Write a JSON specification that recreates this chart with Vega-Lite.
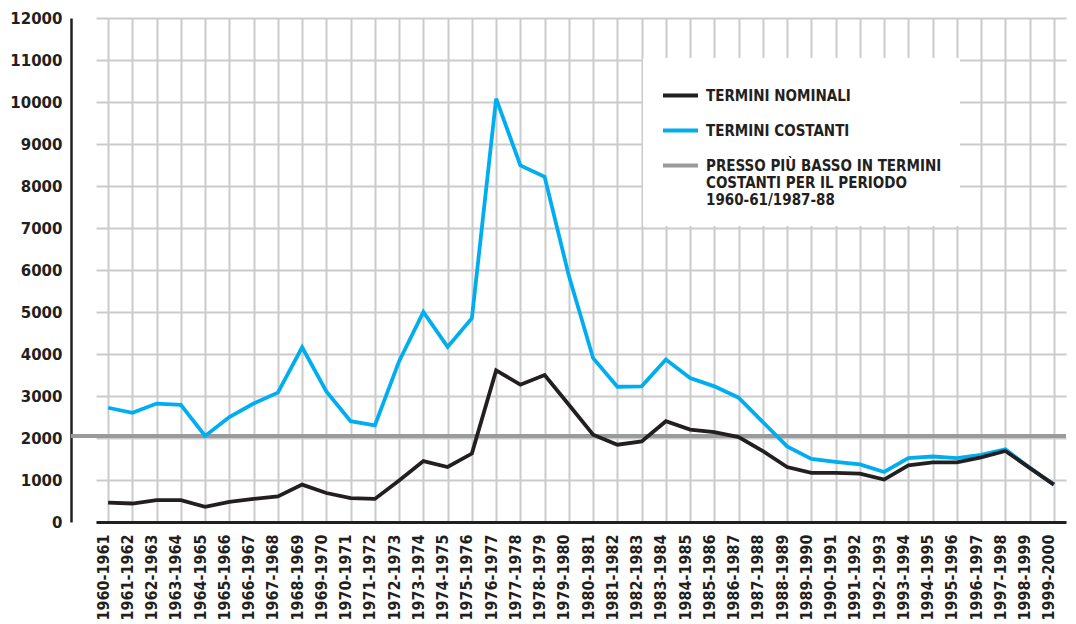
{
  "$schema": "https://vega.github.io/schema/vega-lite/v6.json",
  "width": 995,
  "height": 504,
  "autosize": {"type": "none"},
  "padding": {"left": 71, "top": 18, "right": 10, "bottom": 102},
  "background": "white",
  "datasets": {
    "series": [
      {"period": "1960-1961", "series": "Termini costanti", "value": 2720},
      {"period": "1961-1962", "series": "Termini costanti", "value": 2600},
      {"period": "1962-1963", "series": "Termini costanti", "value": 2820},
      {"period": "1963-1964", "series": "Termini costanti", "value": 2790},
      {"period": "1964-1965", "series": "Termini costanti", "value": 2050},
      {"period": "1965-1966", "series": "Termini costanti", "value": 2500},
      {"period": "1966-1967", "series": "Termini costanti", "value": 2820},
      {"period": "1967-1968", "series": "Termini costanti", "value": 3080},
      {"period": "1968-1969", "series": "Termini costanti", "value": 4160},
      {"period": "1969-1970", "series": "Termini costanti", "value": 3110},
      {"period": "1970-1971", "series": "Termini costanti", "value": 2400},
      {"period": "1971-1972", "series": "Termini costanti", "value": 2300},
      {"period": "1972-1973", "series": "Termini costanti", "value": 3830},
      {"period": "1973-1974", "series": "Termini costanti", "value": 5000},
      {"period": "1974-1975", "series": "Termini costanti", "value": 4170},
      {"period": "1975-1976", "series": "Termini costanti", "value": 4850},
      {"period": "1976-1977", "series": "Termini costanti", "value": 10080},
      {"period": "1977-1978", "series": "Termini costanti", "value": 8490},
      {"period": "1978-1979", "series": "Termini costanti", "value": 8220},
      {"period": "1979-1980", "series": "Termini costanti", "value": 5860},
      {"period": "1980-1981", "series": "Termini costanti", "value": 3900},
      {"period": "1981-1982", "series": "Termini costanti", "value": 3220},
      {"period": "1982-1983", "series": "Termini costanti", "value": 3230},
      {"period": "1983-1984", "series": "Termini costanti", "value": 3870},
      {"period": "1984-1985", "series": "Termini costanti", "value": 3430},
      {"period": "1985-1986", "series": "Termini costanti", "value": 3230},
      {"period": "1986-1987", "series": "Termini costanti", "value": 2960},
      {"period": "1987-1988", "series": "Termini costanti", "value": 2380},
      {"period": "1988-1989", "series": "Termini costanti", "value": 1800},
      {"period": "1989-1990", "series": "Termini costanti", "value": 1500},
      {"period": "1990-1991", "series": "Termini costanti", "value": 1430},
      {"period": "1991-1992", "series": "Termini costanti", "value": 1370},
      {"period": "1992-1993", "series": "Termini costanti", "value": 1190},
      {"period": "1993-1994", "series": "Termini costanti", "value": 1520},
      {"period": "1994-1995", "series": "Termini costanti", "value": 1560},
      {"period": "1995-1996", "series": "Termini costanti", "value": 1520},
      {"period": "1996-1997", "series": "Termini costanti", "value": 1600},
      {"period": "1997-1998", "series": "Termini costanti", "value": 1730},
      {"period": "1998-1999", "series": "Termini costanti", "value": 1290},
      {"period": "1999-2000", "series": "Termini costanti", "value": 890},
      {"period": "1960-1961", "series": "Termini nominali", "value": 460},
      {"period": "1961-1962", "series": "Termini nominali", "value": 440},
      {"period": "1962-1963", "series": "Termini nominali", "value": 520},
      {"period": "1963-1964", "series": "Termini nominali", "value": 520},
      {"period": "1964-1965", "series": "Termini nominali", "value": 360},
      {"period": "1965-1966", "series": "Termini nominali", "value": 480},
      {"period": "1966-1967", "series": "Termini nominali", "value": 550},
      {"period": "1967-1968", "series": "Termini nominali", "value": 610},
      {"period": "1968-1969", "series": "Termini nominali", "value": 890},
      {"period": "1969-1970", "series": "Termini nominali", "value": 690},
      {"period": "1970-1971", "series": "Termini nominali", "value": 570},
      {"period": "1971-1972", "series": "Termini nominali", "value": 550},
      {"period": "1972-1973", "series": "Termini nominali", "value": 990},
      {"period": "1973-1974", "series": "Termini nominali", "value": 1450},
      {"period": "1974-1975", "series": "Termini nominali", "value": 1310},
      {"period": "1975-1976", "series": "Termini nominali", "value": 1630},
      {"period": "1976-1977", "series": "Termini nominali", "value": 3610},
      {"period": "1977-1978", "series": "Termini nominali", "value": 3270},
      {"period": "1978-1979", "series": "Termini nominali", "value": 3500},
      {"period": "1979-1980", "series": "Termini nominali", "value": 2790},
      {"period": "1980-1981", "series": "Termini nominali", "value": 2080},
      {"period": "1981-1982", "series": "Termini nominali", "value": 1840},
      {"period": "1982-1983", "series": "Termini nominali", "value": 1920},
      {"period": "1983-1984", "series": "Termini nominali", "value": 2400},
      {"period": "1984-1985", "series": "Termini nominali", "value": 2200},
      {"period": "1985-1986", "series": "Termini nominali", "value": 2140},
      {"period": "1986-1987", "series": "Termini nominali", "value": 2020},
      {"period": "1987-1988", "series": "Termini nominali", "value": 1690},
      {"period": "1988-1989", "series": "Termini nominali", "value": 1310},
      {"period": "1989-1990", "series": "Termini nominali", "value": 1170},
      {"period": "1990-1991", "series": "Termini nominali", "value": 1170},
      {"period": "1991-1992", "series": "Termini nominali", "value": 1150},
      {"period": "1992-1993", "series": "Termini nominali", "value": 1010},
      {"period": "1993-1994", "series": "Termini nominali", "value": 1350},
      {"period": "1994-1995", "series": "Termini nominali", "value": 1420},
      {"period": "1995-1996", "series": "Termini nominali", "value": 1420},
      {"period": "1996-1997", "series": "Termini nominali", "value": 1540},
      {"period": "1997-1998", "series": "Termini nominali", "value": 1690},
      {"period": "1998-1999", "series": "Termini nominali", "value": 1290},
      {"period": "1999-2000", "series": "Termini nominali", "value": 890}
    ],
    "floor": [
      {"series": "Presso più basso in termini costanti per il periodo 1960-61/1987-88", "value": 2050}
    ]
  },
  "layer": [
    {
      "data": {"name": "floor"},
      "mark": {"type": "rule", "strokeWidth": 4},
      "encoding": {
        "y": {"field": "value", "type": "quantitative", "scale": {"domain": [0, 12000]}},
        "color": {
          "field": "series",
          "type": "nominal",
          "scale": {
            "domain": ["Termini nominali", "Termini costanti", "Presso più basso in termini costanti per il periodo 1960-61/1987-88"],
            "range": ["#231f20", "#00aeef", "#989a9c"]
          },
          "legend": {
            "title": null,
            "orient": "none",
            "legendX": 572,
            "legendY": 40,
            "labelExpr": "indexof(datum.label, 'Presso') == 0 ? ['PRESSO PIÙ BASSO IN TERMINI', 'COSTANTI PER IL PERIODO', '1960-61/1987-88'] : upper(datum.label)"
          }
        }
      }
    },
    {
      "data": {"name": "series"},
      "transform": [{"filter": "datum.series === 'Termini costanti'"}],
      "mark": {"type": "line", "strokeWidth": 3.8, "strokeJoin": "miter"},
      "encoding": {
        "x": {"field": "period", "type": "ordinal", "sort": null, "scale": {"type": "point", "range": [25, 995]}},
        "y": {"field": "value", "type": "quantitative"},
        "color": {"field": "series", "type": "nominal"}
      }
    },
    {
      "data": {"name": "series"},
      "transform": [{"filter": "datum.series === 'Termini nominali'"}],
      "mark": {"type": "line", "strokeWidth": 3.8, "strokeJoin": "miter"},
      "encoding": {
        "x": {"field": "period", "type": "ordinal", "sort": null},
        "y": {"field": "value", "type": "quantitative"},
        "color": {"field": "series", "type": "nominal"}
      }
    }
  ],
  "resolve": {"scale": {"color": "shared", "x": "shared", "y": "shared"}},
  "config": {
    "view": {"stroke": null},
    "axisX": {
      "title": null,
      "labelAngle": -90,
      "labelAlign": "right",
      "labelBaseline": "alphabetic",
      "labelPadding": 12,
      "labelFont": "DejaVu Sans Condensed, Liberation Sans Narrow, DejaVu Sans",
      "labelFontWeight": "bold",
      "labelFontSize": 16,
      "labelColor": "#231f20",
      "labelOverlap": false,
      "labelLimit": 200,
      "ticks": false,
      "grid": true,
      "gridColor": "#cbcbcb",
      "gridWidth": 2,
      "gridOpacity": 1,
      "domainColor": "#231f20",
      "domainWidth": 3
    },
    "axisY": {
      "title": null,
      "values": [0, 1000, 2000, 3000, 4000, 5000, 6000, 7000, 8000, 9000, 10000, 11000, 12000],
      "format": "d",
      "labelFont": "DejaVu Sans",
      "labelFontWeight": "bold",
      "labelFontSize": 15,
      "labelColor": "#231f20",
      "labelPadding": 9,
      "ticks": false,
      "grid": true,
      "gridColor": "#cbcbcb",
      "gridWidth": 2,
      "gridOpacity": 1,
      "domainColor": "#231f20",
      "domainWidth": 2.5
    },
    "legend": {
      "fillColor": "white",
      "strokeColor": null,
      "padding": 18,
      "symbolType": "stroke",
      "symbolSize": 1225,
      "symbolStrokeWidth": 4,
      "symbolOpacity": 1,
      "labelFont": "DejaVu Sans Condensed, Liberation Sans Narrow, DejaVu Sans",
      "labelFontWeight": "bold",
      "labelFontSize": 15,
      "labelColor": "#231f20",
      "labelLimit": 400,
      "labelOffset": 6,
      "rowPadding": 7
    }
  }
}
